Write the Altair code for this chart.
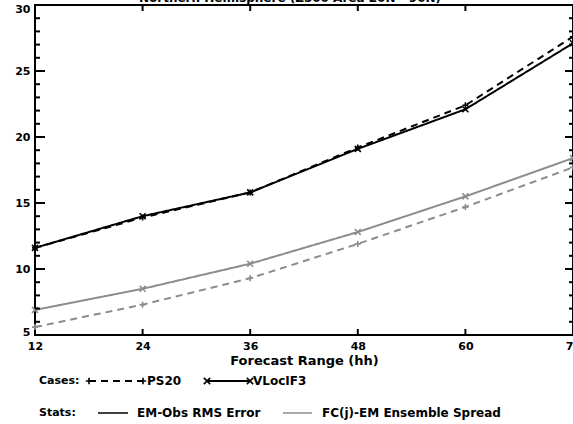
import altair as alt
import pandas as pd

# ---- data ----
hours = [12, 24, 36, 48, 60, 72]
ps20_rms = [11.6, 13.9, 15.8, 19.2, 22.4, 27.6]
vloc_rms = [11.6, 14.0, 15.8, 19.1, 22.1, 27.1]
ps20_spread = [5.6, 7.3, 9.3, 11.9, 14.7, 17.7]
vloc_spread = [6.9, 8.5, 10.4, 12.8, 15.5, 18.4]

cases = ["PS20", "VLocIF3"]
stats = ["EM-Obs RMS Error", "FC(j)-EM Ensemble Spread"]
y_major = [5, 10, 15, 20, 25, 30]
y_minor = [v for v in range(5, 31) if v % 5 != 0]
x_inner = [24, 36, 48, 60]
title_text = "Northern Hemisphere (Z500 Area 20N - 90N)"

rows = []
for case, stat, vals in [
    ("PS20", stats[0], ps20_rms),
    ("VLocIF3", stats[0], vloc_rms),
    ("PS20", stats[1], ps20_spread),
    ("VLocIF3", stats[1], vloc_spread),
]:
    for h, v in zip(hours, vals):
        rows.append({"hour": h, "value": v, "case": case, "stat": stat, "series": case + stat})
df = pd.DataFrame(rows)

W, H = 538, 330
FONT = "DejaVu Sans"
BLACK = "#000000"
GRAY = "#8c8c8c"
PLUS = "M-1,0L1,0M0,-1L0,1"
CROSS = "M-1,-1L1,1M-1,1L1,-1"

xscale = alt.Scale(domain=[12, 72], nice=False, zero=False)
yscale = alt.Scale(domain=[5, 30], nice=False, zero=False)

x_enc = alt.X(
    "hour:Q", scale=xscale,
    axis=alt.Axis(values=hours, title="Forecast Range (hh)", ticks=False, domain=False,
                  grid=False, labelFlush=False, labelFont=FONT, labelFontWeight="bold",
                  labelFontSize=11, labelPadding=5, labelColor="black", titleFont=FONT,
                  titleFontSize=13, titleFontWeight="bold", titleColor="black",
                  titlePadding=3, format="d"),
)
y_enc = alt.Y(
    "value:Q", scale=yscale,
    axis=alt.Axis(values=y_major, title=None, ticks=False, domain=False, grid=False,
                  labelFont=FONT, labelFontWeight="bold", labelFontSize=11,
                  labelPadding=5, labelColor="black", labelFlush=True,
                  labelFlushOffset=2, format="d"),
)

color = alt.Color("stat:N", scale=alt.Scale(domain=stats, range=[BLACK, GRAY]), legend=None)
dash = alt.StrokeDash("case:N", scale=alt.Scale(domain=cases, range=[[7, 5], [1, 0]]), legend=None)
shape = alt.Shape("case:N", scale=alt.Scale(domain=cases, range=[PLUS, CROSS]), legend=None)

lines = alt.Chart(df).mark_line(strokeWidth=2).encode(
    x=x_enc, y=y_enc, color=color, strokeDash=dash, detail="series:N"
)
points = alt.Chart(df).mark_point(filled=False, size=36, strokeWidth=1.6, opacity=1).encode(
    x=alt.X("hour:Q", scale=xscale), y=alt.Y("value:Q", scale=yscale),
    color=color, shape=shape
)

# ---- inner tick marks ----
ymaj_df = pd.DataFrame({"v": y_major})
ymin_df = pd.DataFrame({"v": y_minor})
xin_df = pd.DataFrame({"h": x_inner})
yv = alt.Y("v:Q", scale=yscale)
xh = alt.X("h:Q", scale=xscale)
tick_style = dict(color="black", strokeWidth=2)
left_major = alt.Chart(ymaj_df).mark_rule(**tick_style).encode(y=yv, x=alt.value(0), x2=alt.value(10))
left_minor = alt.Chart(ymin_df).mark_rule(**tick_style).encode(y=yv, x=alt.value(0), x2=alt.value(5))
right_major = alt.Chart(ymaj_df).mark_rule(**tick_style).encode(y=yv, x=alt.value(W - 8), x2=alt.value(W))
right_minor = alt.Chart(ymin_df).mark_rule(**tick_style).encode(y=yv, x=alt.value(W - 4), x2=alt.value(W))
bottom_t = alt.Chart(xin_df).mark_rule(**tick_style).encode(x=xh, y=alt.value(H), y2=alt.value(H - 6))
top_t = alt.Chart(xin_df).mark_rule(**tick_style).encode(x=xh, y=alt.value(0), y2=alt.value(6))

# ---- title (clipped at top like the reference) ----
one = pd.DataFrame({"t": [title_text]})
title = alt.Chart(one).mark_text(font=FONT, fontSize=12, fontWeight="bold", baseline="alphabetic",
                                 align="center", color="black").encode(
    text="t:N", x=alt.value(255), y=alt.value(-3))

# ---- custom legend ----
ox, oy = 35, 5  # plot origin in page pixels
cases_y = 381 - oy
stats_y = 413 - oy


def txt(s, x, y, size=12, color="black"):
    return alt.Chart(pd.DataFrame({"t": [s]})).mark_text(
        font=FONT, fontSize=size, fontWeight="bold", align="left", baseline="middle", color=color
    ).encode(text="t:N", x=alt.value(x - ox), y=alt.value(y))


def seg(x1, x2, y, color, dashpat=None, width=2):
    kw = dict(color=color, strokeWidth=width)
    if dashpat:
        kw["strokeDash"] = dashpat
    return alt.Chart(pd.DataFrame({"a": [0]})).mark_rule(**kw).encode(
        x=alt.value(x1 - ox), x2=alt.value(x2 - ox), y=alt.value(y))


def mk(x, y, path):
    return alt.Chart(pd.DataFrame({"a": [0]})).mark_point(
        shape=path, filled=False, size=40, strokeWidth=1.6, color="black", opacity=1
    ).encode(x=alt.value(x - ox), y=alt.value(y))


legend = [
    txt("Cases:", 39, cases_y, 11),
    seg(89, 143, cases_y, BLACK, [7, 5]),
    mk(89, cases_y, PLUS), mk(143, cases_y, PLUS),
    txt("PS20", 147, cases_y),
    seg(207, 250, cases_y, BLACK),
    mk(207, cases_y, CROSS), mk(250, cases_y, CROSS),
    txt("VLocIF3", 253, cases_y),
    txt("Stats:", 39, stats_y, 11),
    seg(98, 128, stats_y, BLACK, None, 1.5),
    txt("EM-Obs RMS Error", 137, stats_y),
    seg(283, 312, stats_y, GRAY, None, 1.5),
    txt("FC(j)-EM Ensemble Spread", 322, stats_y),
]

chart = alt.layer(
    lines, points, left_major, left_minor, right_major, right_minor, bottom_t, top_t,
    title, *legend
).properties(
    width=W, height=H, autosize="none",
    padding={"left": 35, "top": 5, "right": 0, "bottom": 89},
    background="white",
).configure_view(stroke="black", strokeWidth=2)

chart.save("out.html", embed_options={"renderer": "svg", "actions": False})
